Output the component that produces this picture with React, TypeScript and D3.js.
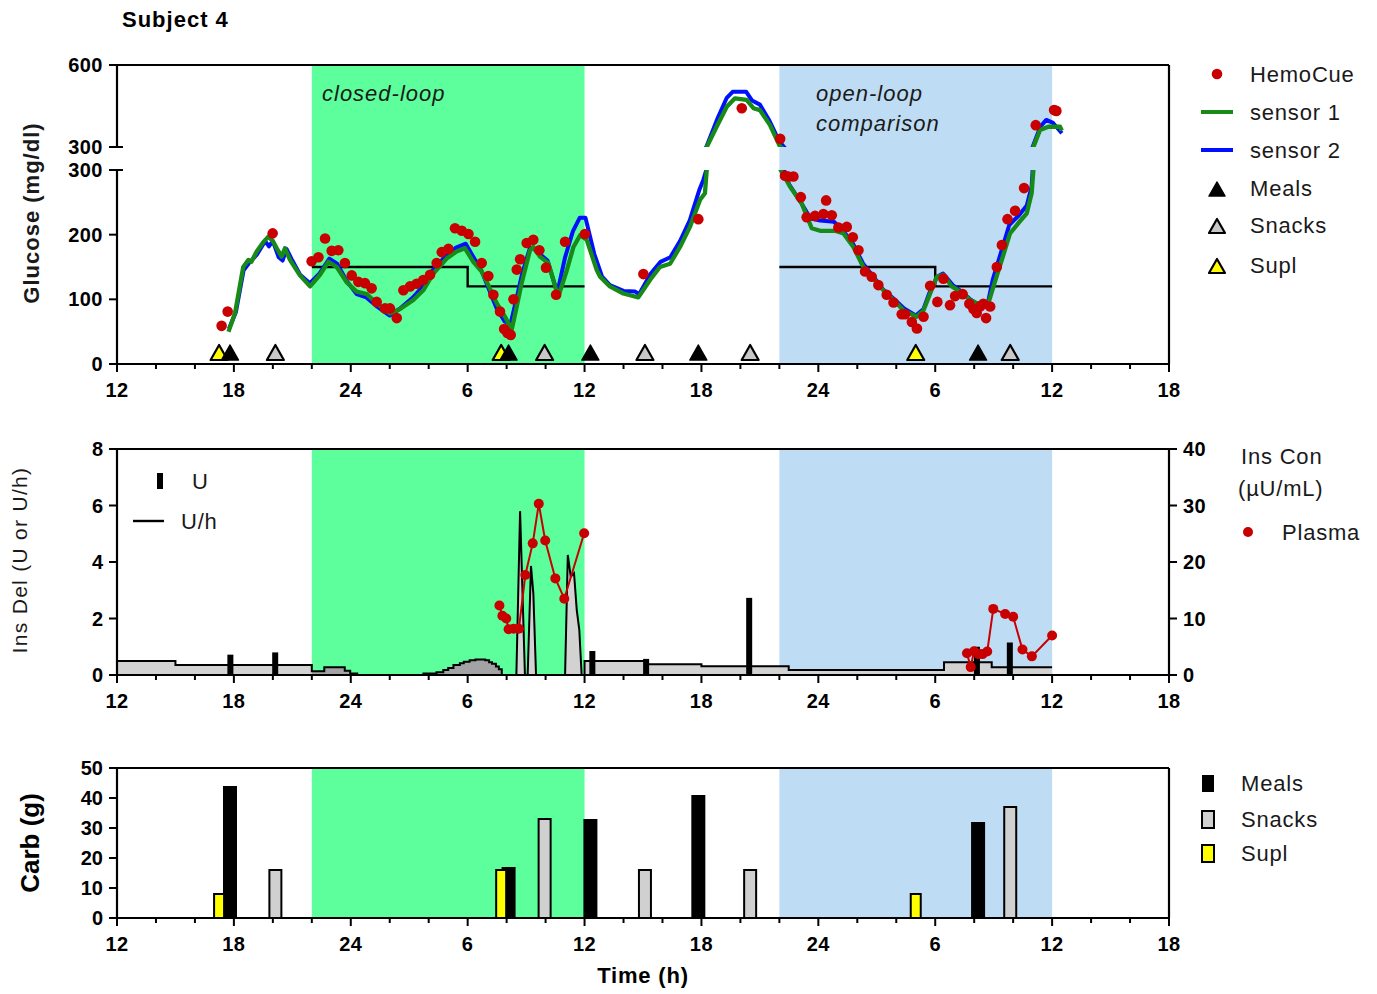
import React from 'react';
import * as d3 from 'd3';

// ---------- DATA ----------
// time in hours after 12:00 of day 1
const hemoCue: [number, number][] = [
  [5.37,59],[5.68,81],[7.99,202],[9.99,159],[10.34,165],[10.68,194],[11.02,175],[11.36,176],[11.7,156],[12.05,137],
  [12.39,127],[12.73,125],[13.07,117],[13.33,96],[13.76,86],[14.01,86],[14.36,71],[14.7,114],[15.04,120],[15.38,124],
  [15.72,130],[16.07,138],[16.41,156],[16.67,173],[17.01,178],[17.35,210],[17.7,206],[18.04,201],[18.38,189],[18.72,156],
  [19.06,136],[19.32,107],[19.66,81],[19.87,54],[20.04,48],[20.21,45],[20.35,100],[20.52,146],[20.69,162],[21.03,187],
  [21.37,192],[21.68,176],[22.02,149],[22.54,107],[23.0,189],[24.02,201],[27.02,139],[29.84,224],[32.07,442],[34.04,330],
  [34.29,291],[34.46,290],[34.72,290],[35.1,258],[35.4,227],[35.83,229],[36.26,232],[36.4,253],[36.69,230],[37.03,211],
  [37.46,212],[37.77,196],[38.06,176],[38.4,143],[38.74,135],[39.08,122],[39.51,107],[39.86,95],[40.28,77],[40.45,77],
  [40.8,65],[41.06,55],[41.4,73],[41.74,121],[42.11,96],[42.42,132],[42.76,91],[43.02,105],[43.41,108],[43.75,93],
  [43.96,85],[44.13,79],[44.3,89],[44.47,93],[44.61,71],[44.82,89],[45.16,150],[45.42,184],[45.71,224],[46.1,237],
  [46.56,272],[47.16,380],[48.1,435],[48.22,432]
];

const sensor1: [number, number][] = [
  [5.72,50],[6.06,79],[6.48,150],[6.74,161],[6.9,158],[7.17,174],[7.5,188],[7.77,197],[8.0,190],[8.2,179],
  [8.45,166],[8.62,179],[8.88,161],[9.39,137],[9.91,120],[10.42,138],[10.85,158],[11.28,150],[11.8,126],[12.3,112],
  [12.82,108],[13.33,94],[14.01,78],[14.53,85],[15.21,99],[15.72,114],[16.24,140],[16.92,163],[17.43,174],[17.86,179],
  [18.29,158],[18.72,143],[19.06,122],[19.49,94],[19.92,73],[20.26,53],[20.52,89],[20.77,125],[21.2,176],[21.37,181],
  [21.71,166],[22.14,156],[22.65,104],[23.09,145],[23.43,181],[23.77,199],[24.11,192],[24.63,145],[24.8,135],[25.3,120],
  [25.99,109],[26.76,103],[27.36,130],[27.87,150],[28.39,155],[28.9,181],[29.41,212],[29.93,254],[30.18,264],[30.27,300],
  [30.78,374],[31.3,447],[31.72,478],[32.32,472],[32.67,442],[33.0,435],[33.52,380],[34.03,302],[34.55,274],[35.15,248],
  [35.66,210],[36.09,206],[36.86,206],[37.29,202],[37.8,181],[38.31,150],[38.83,132],[39.34,114],[39.86,99],[40.37,83],
  [41.05,73],[41.4,83],[41.74,109],[42.08,135],[42.42,138],[42.85,120],[43.28,112],[43.79,99],[44.13,94],[44.73,94],
  [44.99,120],[45.42,161],[45.84,202],[46.27,218],[46.7,233],[46.95,264],[47.04,300],[47.38,362],[47.81,374],[48.41,374],
  [48.5,360]
];

const sensor2: [number, number][] = [
  [5.75,55],[6.1,80],[6.5,145],[6.75,155],[7.2,170],[7.6,190],[7.8,182],[8.0,190],[8.3,165],[8.5,160],
  [8.7,178],[9.0,160],[9.4,138],[9.9,125],[10.4,140],[10.9,163],[11.3,155],[11.8,128],[12.3,108],[12.8,103],
  [13.3,90],[14.0,75],[14.5,85],[15.2,103],[15.7,120],[16.2,145],[16.9,168],[17.4,180],[17.9,186],[18.3,165],
  [18.7,145],[19.1,115],[19.5,85],[19.9,66],[20.2,62],[20.5,100],[20.8,140],[21.2,180],[21.4,178],[21.7,170],
  [22.1,160],[22.6,110],[23.0,165],[23.4,205],[23.75,226],[24.05,226],[24.5,170],[24.9,135],[25.3,122],[26.0,113],
  [26.6,112],[26.8,108],[27.4,140],[27.9,158],[28.4,165],[28.9,190],[29.4,222],[29.9,270],[30.1,285],[30.25,300],
  [30.8,400],[31.3,480],[31.6,502],[32.3,502],[32.6,470],[33.0,455],[33.5,395],[34.0,320],[34.5,278],[35.1,250],
  [35.6,225],[36.1,222],[36.8,220],[37.3,205],[37.8,185],[38.3,155],[38.8,136],[39.3,116],[39.9,100],[40.4,86],
  [41.0,75],[41.4,85],[41.7,110],[42.1,135],[42.4,140],[42.9,122],[43.3,113],[43.8,100],[44.1,94],[44.7,94],
  [44.95,130],[45.4,175],[45.8,215],[46.3,230],[46.7,245],[46.95,275],[47.0,300],[47.4,375],[47.7,399],[48.05,388],
  [48.5,350]
];

const targetClosed: [number, number][] = [[10,150],[18,120],[24,120]];
const targetOpen: [number, number][] = [[34,150],[42,120],[48,120]];

const meals: [number, number][] = [[5.8,44],[20.1,17],[24.3,33],[29.84,41],[44.2,32]];
const snacks: [number, number][] = [[8.13,16],[21.95,33],[27.1,16],[32.5,16],[45.85,37]];
const supl: [number, number][] = [[5.24,8],[19.72,16],[41.0,8]];

// insulin delivery (U/h), step functions (value holds until next time)
const basalDay1: [number, number][] = [[0,0.5],[3,0.35],[10,0.35]];
const closedBasal: [number, number][] = [
  [10,0.13],[10.64,0.27],[11.69,0.15],[11.97,0.05],[12.33,0],[15.73,0.05],[16.4,0.1],[16.75,0.18],[17.0,0.25],
  [17.27,0.35],[17.6,0.42],[17.8,0.47],[18.1,0.52],[18.4,0.55],[18.9,0.52],[19.1,0.45],[19.25,0.4],[19.45,0.3],
  [19.6,0.2],[19.75,0],[20.5,0]
];
// closed-loop boluses delivered as rate profile (linear)
const closedSpikes: [number, number][] = [
  [20.5,0],[20.69,5.8],[20.94,0],[21.08,0],[21.25,3.86],[21.37,2.9],[21.51,0],[23.0,0],[23.14,4.25],
  [23.29,3.48],[23.46,3.6],[23.6,2.3],[23.73,1.6],[23.85,0],[24,0]
];
const basalDay2: [number, number][] = [[24,0.5],[27.16,0.38],[30,0.31],[34.48,0.18],[42.45,0.45],[44.9,0.27],[48,0.27]];
const bolusU: [number, number][] = [[5.82,0.72],[8.12,0.8],[24.4,0.85],[27.16,0.57],[32.45,2.73],[44.14,1.0],[45.83,1.15]];

const plasmaClosed: [number, number][] = [
  [19.63,12.3],[19.78,10.5],[19.98,10.0],[20.1,8.1],[20.36,8.2],[20.63,8.2],[20.96,17.7],[21.34,23.3],[21.65,30.3],
  [21.98,23.8],[22.5,17.1],[22.96,13.5],[23.98,25.1]
];
const plasmaOpen: [number, number][] = [
  [43.63,3.85],[43.82,1.4],[43.99,4.2],[44.23,3.7],[44.43,3.7],[44.67,4.15],[44.98,11.7],[45.59,10.8],[46.0,10.3],
  [46.48,4.5],[46.96,3.3],[48.0,7.0]
];

const closedLoopPeriod: [number, number] = [10, 24];
const openLoopPeriod: [number, number] = [34, 48];
const xTicks = d3.range(0, 55, 2);
const glucoseTicksLo = [0, 100, 200, 300];
const glucoseTicksHi = [300, 600];
const insTicks = [0, 2, 4, 6, 8];
const plasmaTicks = [0, 10, 20, 30, 40];
const carbTicks = [0, 10, 20, 30, 40, 50];

// ---------- SCALES ----------
const X0 = 117, X1 = 1169;
const x = d3.scaleLinear().domain([0, 54]).range([X0, X1]);
const yLo = d3.scaleLinear().domain([0, 300]).range([364, 170]);
const yHi = d3.scaleLinear().domain([300, 600]).range([147, 65]);
const yIns = d3.scaleLinear().domain([0, 8]).range([675, 449]);
const yPl = d3.scaleLinear().domain([0, 40]).range([675, 449]);
const yCarb = d3.scaleLinear().domain([0, 50]).range([918, 768]);

const FONT = 'Liberation Sans, Arial, Helvetica, sans-serif';
const GREEN_BG = '#5cff9c';
const BLUE_BG = '#bedcf4';
const RED = '#c80000';
const S1 = '#178a17';
const S2 = '#0010ff';

const hourLabel = (t: number) => {
  const h = (12 + t) % 24;
  return String(h === 0 ? 24 : h);
};

const toSteps = (arr: [number, number][]) => {
  const out: [number, number][] = [];
  arr.forEach((d, i) => {
    out.push([d[0], d[1]]);
    if (i < arr.length - 1) out.push([arr[i + 1][0], d[1]]);
  });
  return out;
};

const tri = (cx: number, by: number, w = 17, h = 15) =>
  `M${cx - w / 2},${by}L${cx + w / 2},${by}L${cx},${by - h}Z`;

function XAxis({ y0 }: { y0: number }) {
  return (
    <g>
      <line x1={X0} x2={X1} y1={y0} y2={y0} stroke="#000" strokeWidth={2.2} />
      {xTicks.map(t => {
        const major = t % 6 === 0;
        return (
          <g key={t}>
            <line x1={x(t)} x2={x(t)} y1={y0} y2={y0 + (major ? 8 : 5)} stroke="#000" strokeWidth={2} />
            {major && (
              <text x={x(t)} y={y0 + 33} textAnchor="middle" fontSize={20} fontWeight="bold" style={{ letterSpacing: '0.5px' }}>
                {hourLabel(t)}
              </text>
            )}
          </g>
        );
      })}
    </g>
  );
}

export default function App() {
  const lineLo = d3.line<[number, number]>().x(d => x(d[0])).y(d => yLo(d[1]));
  const lineHi = d3.line<[number, number]>().x(d => x(d[0])).y(d => yHi(d[1]));
  const stepLo = d3.line<[number, number]>().curve(d3.curveStepAfter).x(d => x(d[0])).y(d => yLo(d[1]));
  const insLine = d3.line<[number, number]>().x(d => x(d[0])).y(d => yIns(d[1]));
  const insArea = d3.area<[number, number]>().x(d => x(d[0])).y0(yIns(0)).y1(d => yIns(d[1]));
  const plLine = d3.line<[number, number]>().x(d => x(d[0])).y(d => yPl(d[1]));
  const gY = (v: number) => (v > 300 ? yHi(v) : yLo(v));

  const seg1 = toSteps(basalDay1);
  const seg2 = toSteps(closedBasal);
  const seg4 = toSteps(basalDay2);
  const outline = [...seg1, ...seg2, ...closedSpikes, ...seg4];

  const shade = (top: number, bottom: number) => (
    <g>
      <rect x={x(closedLoopPeriod[0])} y={top} width={x(closedLoopPeriod[1]) - x(closedLoopPeriod[0])} height={bottom - top} fill={GREEN_BG} />
      <rect x={x(openLoopPeriod[0])} y={top} width={x(openLoopPeriod[1]) - x(openLoopPeriod[0])} height={bottom - top} fill={BLUE_BG} />
    </g>
  );

  const sensorPaths = (clip: string, gen: d3.Line<[number, number]>) => (
    <g clipPath={`url(#${clip})`}>
      <path d={gen(sensor2) || ''} fill="none" stroke={S2} strokeWidth={4} strokeLinejoin="round" />
      <path d={gen(sensor1) || ''} fill="none" stroke={S1} strokeWidth={4.3} strokeLinejoin="round" />
    </g>
  );

  const legText = { fontSize: 22, fill: '#1a1a1a', style: { letterSpacing: '0.8px' } } as any;

  return (
    <svg width={1377} height={994} style={{ position: 'absolute', left: 0, top: 0, background: '#fff' }} fontFamily={FONT}>
      <defs>
        <clipPath id="clipLo"><rect x={X0} y={yLo(300)} width={X1 - X0} height={yLo(0) - yLo(300)} /></clipPath>
        <clipPath id="clipHi"><rect x={X0} y={yHi(600)} width={X1 - X0} height={yHi(300) - yHi(600)} /></clipPath>
      </defs>

      <text x={122} y={27} fontSize={22} fontWeight="bold" style={{ letterSpacing: '1px' }}>Subject 4</text>

      {/* ================= TOP PANEL ================= */}
      {shade(yHi(600), yLo(0))}
      <text x={322} y={101} fontSize={22} fontStyle="italic" fill="#1a1a1a" style={{ letterSpacing: '1px' }}>closed-loop</text>
      <text x={816} y={101} fontSize={22} fontStyle="italic" fill="#1a1a1a" style={{ letterSpacing: '1px' }}>open-loop</text>
      <text x={816} y={131} fontSize={22} fontStyle="italic" fill="#1a1a1a" style={{ letterSpacing: '1px' }}>comparison</text>

      <path d={stepLo(targetClosed) || ''} fill="none" stroke="#000" strokeWidth={2.4} />
      <path d={stepLo(targetOpen) || ''} fill="none" stroke="#000" strokeWidth={2.4} />

      {sensorPaths('clipLo', lineLo)}
      {sensorPaths('clipHi', lineHi)}

      {hemoCue.map((d, i) => (
        <circle key={i} cx={x(d[0])} cy={gY(d[1])} r={5.3} fill={RED} />
      ))}

      {supl.map((d, i) => (
        <path key={'ts' + i} d={tri(x(d[0]), yLo(0) - 4)} fill="#ffff00" stroke="#000" strokeWidth={2.2} strokeLinejoin="round" />
      ))}
      {snacks.map((d, i) => (
        <path key={'tn' + i} d={tri(x(d[0]), yLo(0) - 4)} fill="#c8c8c8" stroke="#000" strokeWidth={2.2} strokeLinejoin="round" />
      ))}
      {meals.map((d, i) => (
        <path key={'tm' + i} d={tri(x(d[0]), yLo(0) - 4)} fill="#000" stroke="#000" strokeWidth={1.5} strokeLinejoin="round" />
      ))}

      {/* frame */}
      <line x1={X0} x2={X1} y1={yHi(600)} y2={yHi(600)} stroke="#000" strokeWidth={2.2} />
      <line x1={X1} x2={X1} y1={yHi(600)} y2={yLo(0)} stroke="#000" strokeWidth={2.2} />
      <line x1={X0} x2={X0} y1={yHi(600)} y2={yHi(300)} stroke="#000" strokeWidth={2.2} />
      <line x1={X0} x2={X0} y1={yLo(300)} y2={yLo(0)} stroke="#000" strokeWidth={2.2} />
      {glucoseTicksHi.map(v => (
        <g key={'h' + v}>
          <line x1={X0 - 8} x2={v === 300 ? X0 + 6 : X0} y1={yHi(v)} y2={yHi(v)} stroke="#000" strokeWidth={2} />
          <text x={103} y={yHi(v) + 7} textAnchor="end" fontSize={20} fontWeight="bold" style={{ letterSpacing: '0.5px' }}>{v}</text>
        </g>
      ))}
      {glucoseTicksLo.map(v => (
        <g key={'l' + v}>
          <line x1={X0 - 8} x2={v === 300 ? X0 + 6 : X0} y1={yLo(v)} y2={yLo(v)} stroke="#000" strokeWidth={2} />
          <text x={103} y={yLo(v) + 7} textAnchor="end" fontSize={20} fontWeight="bold" style={{ letterSpacing: '0.5px' }}>{v}</text>
        </g>
      ))}
      <XAxis y0={yLo(0)} />
      <text transform={`translate(39,${213}) rotate(-90)`} textAnchor="middle" fontSize={22} fontWeight="bold" fill="#1a1a1a" style={{ letterSpacing: '1px' }}>
        Glucose (mg/dl)
      </text>

      {/* top legend */}
      <circle cx={1217} cy={74} r={5.3} fill={RED} />
      <text x={1250} y={82} {...legText}>HemoCue</text>
      <line x1={1201} x2={1233} y1={112} y2={112} stroke={S1} strokeWidth={4} />
      <text x={1250} y={120} {...legText}>sensor 1</text>
      <line x1={1201} x2={1233} y1={150} y2={150} stroke={S2} strokeWidth={4} />
      <text x={1250} y={158} {...legText}>sensor 2</text>
      <path d={tri(1217, 196, 16, 14)} fill="#000" stroke="#000" strokeWidth={1.5} strokeLinejoin="round" />
      <text x={1250} y={196} {...legText}>Meals</text>
      <path d={tri(1217, 233, 16, 14)} fill="#c8c8c8" stroke="#000" strokeWidth={2.2} strokeLinejoin="round" />
      <text x={1250} y={233} {...legText}>Snacks</text>
      <path d={tri(1217, 273, 16, 14)} fill="#ffff00" stroke="#000" strokeWidth={2.2} strokeLinejoin="round" />
      <text x={1250} y={273} {...legText}>Supl</text>

      {/* ================= MIDDLE PANEL ================= */}
      {shade(yIns(8), yIns(0))}
      <path d={insArea(seg1) || ''} fill="#d2d2d2" />
      <path d={insArea(seg2) || ''} fill="#a3a3a6" />
      <path d={insArea(closedSpikes) || ''} fill="#d2d2d2" />
      <path d={insArea(seg4) || ''} fill="#d2d2d2" />
      <path d={insLine(outline) || ''} fill="none" stroke="#000" strokeWidth={2} strokeLinejoin="miter" />
      {bolusU.map((d, i) => (
        <rect key={'b' + i} x={x(d[0]) - 3} y={yIns(d[1])} width={6} height={yIns(0) - yIns(d[1])} fill="#000" />
      ))}
      <path d={plLine(plasmaClosed) || ''} fill="none" stroke={RED} strokeWidth={2} />
      <path d={plLine(plasmaOpen) || ''} fill="none" stroke={RED} strokeWidth={2} />
      {[...plasmaClosed, ...plasmaOpen].map((d, i) => (
        <circle key={'p' + i} cx={x(d[0])} cy={yPl(d[1])} r={5} fill={RED} />
      ))}

      <line x1={X0} x2={X1} y1={yIns(8)} y2={yIns(8)} stroke="#000" strokeWidth={2.2} />
      <line x1={X0} x2={X0} y1={yIns(8)} y2={yIns(0)} stroke="#000" strokeWidth={2.2} />
      <line x1={X1} x2={X1} y1={yIns(8)} y2={yIns(0)} stroke="#000" strokeWidth={2.2} />
      {insTicks.map(v => (
        <g key={'i' + v}>
          <line x1={X0 - 8} x2={X0} y1={yIns(v)} y2={yIns(v)} stroke="#000" strokeWidth={2} />
          <text x={103} y={yIns(v) + 7} textAnchor="end" fontSize={20} fontWeight="bold">{v}</text>
        </g>
      ))}
      {plasmaTicks.map(v => (
        <g key={'pl' + v}>
          <line x1={X1} x2={X1 + 8} y1={yPl(v)} y2={yPl(v)} stroke="#000" strokeWidth={2} />
          <text x={1183} y={yPl(v) + 7} textAnchor="start" fontSize={20} fontWeight="bold" style={{ letterSpacing: '0.5px' }}>{v}</text>
        </g>
      ))}
      <XAxis y0={yIns(0)} />
      <text transform={`translate(27,${560}) rotate(-90)`} textAnchor="middle" fontSize={21} fill="#1a1a1a" style={{ letterSpacing: '1.3px' }}>
        Ins Del (U or U/h)
      </text>

      {/* middle legends */}
      <rect x={157} y={473} width={6} height={16} fill="#000" />
      <text x={192} y={489} {...legText}>U</text>
      <line x1={133} x2={164} y1={521} y2={521} stroke="#000" strokeWidth={2.4} />
      <text x={181} y={529} {...legText}>U/h</text>
      <text x={1241} y={464} {...legText}>Ins Con</text>
      <text x={1238} y={496} {...legText}>(µU/mL)</text>
      <circle cx={1248} cy={532} r={5} fill={RED} />
      <text x={1282} y={540} {...legText}>Plasma</text>

      {/* ================= BOTTOM PANEL ================= */}
      {shade(yCarb(50), yCarb(0))}
      {snacks.map((d, i) => (
        <rect key={'cs' + i} x={x(d[0]) - 6} y={yCarb(d[1])} width={12} height={yCarb(0) - yCarb(d[1])} fill="#d0d0d0" stroke="#000" strokeWidth={2} />
      ))}
      {meals.map((d, i) => (
        <rect key={'cm' + i} x={x(d[0]) - 7} y={yCarb(d[1])} width={14} height={yCarb(0) - yCarb(d[1])} fill="#000" />
      ))}
      {supl.map((d, i) => (
        <rect key={'cy' + i} x={x(d[0]) - 5} y={yCarb(d[1])} width={10} height={yCarb(0) - yCarb(d[1])} fill="#ffff00" stroke="#000" strokeWidth={2} />
      ))}
      <line x1={X0} x2={X1} y1={yCarb(50)} y2={yCarb(50)} stroke="#000" strokeWidth={2.2} />
      <line x1={X0} x2={X0} y1={yCarb(50)} y2={yCarb(0)} stroke="#000" strokeWidth={2.2} />
      <line x1={X1} x2={X1} y1={yCarb(50)} y2={yCarb(0)} stroke="#000" strokeWidth={2.2} />
      {carbTicks.map(v => (
        <g key={'c' + v}>
          <line x1={X0 - 8} x2={X0} y1={yCarb(v)} y2={yCarb(v)} stroke="#000" strokeWidth={2} />
          <text x={103} y={yCarb(v) + 7} textAnchor="end" fontSize={20} fontWeight="bold">{v}</text>
        </g>
      ))}
      <XAxis y0={yCarb(0)} />
      <text transform={`translate(39,${843}) rotate(-90)`} textAnchor="middle" fontSize={26} fontWeight="bold">Carb (g)</text>
      <text x={643} y={983} textAnchor="middle" fontSize={22} fontWeight="bold" style={{ letterSpacing: '0.8px' }}>Time (h)</text>

      {/* bottom legend */}
      <rect x={1202} y={775} width={12} height={17} fill="#000" />
      <text x={1241} y={791} {...legText}>Meals</text>
      <rect x={1202} y={811} width={12} height={17} fill="#d0d0d0" stroke="#000" strokeWidth={2} />
      <text x={1241} y={827} {...legText}>Snacks</text>
      <rect x={1202} y={845} width={12} height={17} fill="#ffff00" stroke="#000" strokeWidth={2} />
      <text x={1241} y={861} {...legText}>Supl</text>
    </svg>
  );
}
